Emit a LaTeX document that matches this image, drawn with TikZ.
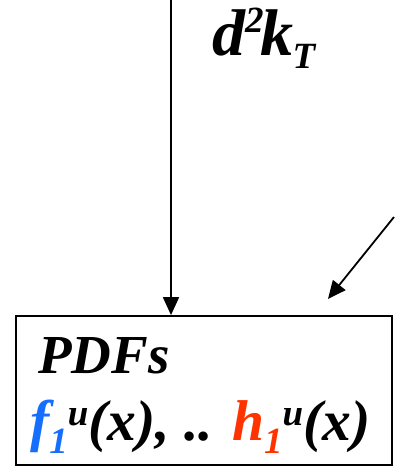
\documentclass[tikz,border=0pt]{standalone}
\usepackage{fontspec}
\setmainfont{Liberation Serif}
\usetikzlibrary{arrows.meta}
\definecolor{fblue}{RGB}{22,110,255}
\definecolor{hred}{RGB}{255,51,0}
\newcommand\mysup[2]{\raisebox{#1}{\fontsize{37}{37}\selectfont #2}}
\begin{document}
\begin{tikzpicture}[x=1pt,y=-1pt,
  conn/.style={line width=1.8pt,-{Triangle[length=18pt,width=16pt]}},
  lbl/.style={inner sep=0pt,anchor=base west,font=\bfseries\itshape},
  boxn/.style={draw,line width=1.8pt,minimum width=376pt,minimum height=149pt,inner sep=0pt}]
\useasboundingbox (0,0) rectangle (394,469);
\node[boxn] (box) at (204,390.5) {};
\coordinate (top) at (171,0);
\coordinate (right) at (394,217);
\coordinate (tipr) at (328,299);
\draw[conn] (top) -- (top |- box.north);
\draw[conn] (right) -- (tipr);
\node[lbl,font=\fontsize{66}{66}\bfseries\itshape\selectfont] (dk) at (212,55) {d\mysup{23pt}{2}\kern-3pt k\kern-1pt\mysup{-13pt}{T}};
\node[lbl,font=\fontsize{55}{55}\bfseries\itshape\selectfont] (pdfs) at (38,373) {PDFs};
\node[lbl,font=\fontsize{57.5}{57.5}\bfseries\itshape\selectfont] (fh) at (30,440) {{\color{fblue}f\mysup{-13pt}{1}}\mysup{15pt}{u}(x), .. {\color{hred}h\mysup{-13pt}{1}}\mysup{15pt}{u}(x)};
\end{tikzpicture}
\end{document}
